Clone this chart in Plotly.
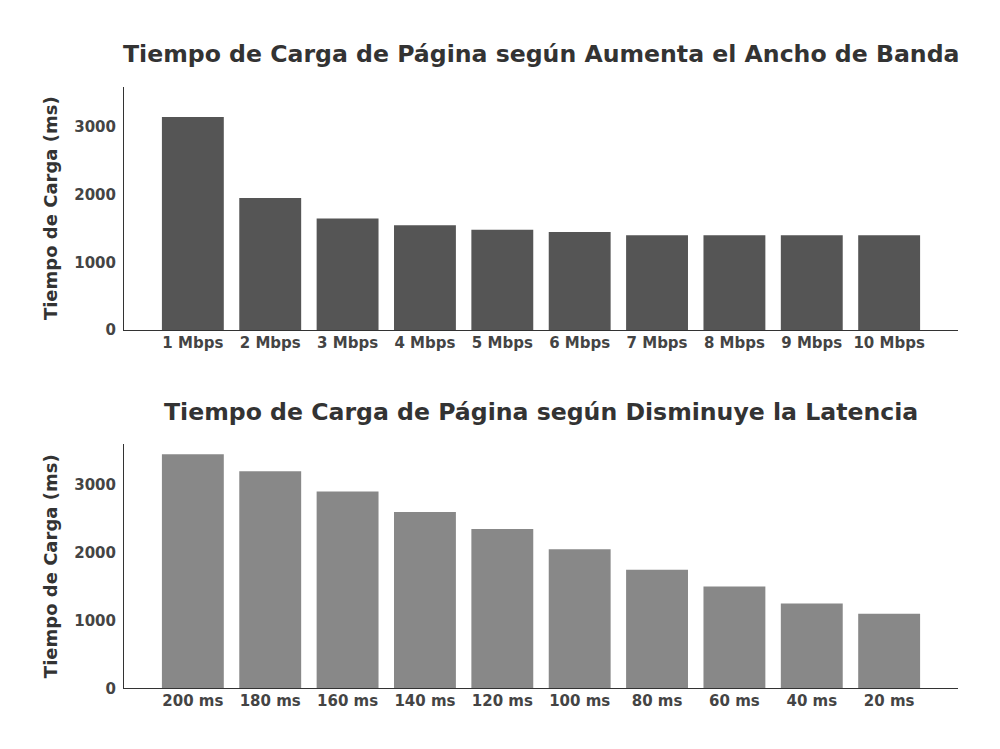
import plotly.graph_objects as go
from plotly.subplots import make_subplots

# datos
bandwidth_labels = ["1 Mbps", "2 Mbps", "3 Mbps", "4 Mbps", "5 Mbps",
                    "6 Mbps", "7 Mbps", "8 Mbps", "9 Mbps", "10 Mbps"]
bandwidth_load_ms = [3150, 1950, 1650, 1550, 1480, 1450, 1400, 1400, 1400, 1400]

latency_labels = ["200 ms", "180 ms", "160 ms", "140 ms", "120 ms",
                  "100 ms", "80 ms", "60 ms", "40 ms", "20 ms"]
latency_load_ms = [3450, 3200, 2900, 2600, 2350, 2050, 1750, 1500, 1250, 1100]

FONT = "DejaVu Sans"
TXT = "#333333"
TICK = "#444444"

fig = make_subplots(rows=2, cols=1)

fig.add_trace(go.Bar(
    x=bandwidth_labels, y=bandwidth_load_ms,
    marker=dict(color="#555555", line=dict(width=0)),
    width=0.8, showlegend=False,
), row=1, col=1)

fig.add_trace(go.Bar(
    x=latency_labels, y=latency_load_ms,
    marker=dict(color="#888888", line=dict(width=0)),
    width=0.8, showlegend=False,
), row=2, col=1)

x_dom = [0.116, 0.950]
axis_common = dict(
    showgrid=False, zeroline=False,
    showline=True, linecolor=TXT, linewidth=1,
    tickfont=dict(family=FONT, size=15, color=TICK, weight="bold"),
)

# eje x: etiquetas pegadas a la línea base
fig.update_xaxes(**axis_common, domain=x_dom, range=[-0.89, 9.89],
                 ticks="", ticklabelstandoff=-1)
fig.update_yaxes(
    **axis_common, range=[0, 3600], tickvals=[0, 1000, 2000, 3000],
    ticks="outside", ticklen=4, tickcolor="rgba(0,0,0,0)",
    title=dict(text="<b>Tiempo de Carga (ms)</b>", standoff=11,
               font=dict(family=FONT, size=18, color=TXT)),
)
fig.update_layout(
    yaxis=dict(domain=[0.5650, 0.8938]),
    yaxis2=dict(domain=[0.0805, 0.4107]),
)

for ypos, txt in [(0.9384, "Tiempo de Carga de Página según Aumenta el Ancho de Banda"),
                  (0.4540, "Tiempo de Carga de Página según Disminuye la Latencia")]:
    fig.add_annotation(
        x=0.533, y=ypos, xref="paper", yref="paper",
        text=f"<b>{txt}</b>", showarrow=False,
        xanchor="center", yanchor="middle",
        font=dict(family=FONT, size=23.6, color=TXT),
    )

fig.update_layout(
    width=1000, height=749,
    margin=dict(l=0, r=0, t=0, b=0),
    paper_bgcolor="white", plot_bgcolor="white",
    font=dict(family=FONT, color=TXT),
    bargap=0.2,
)

fig.write_html("out.html")
